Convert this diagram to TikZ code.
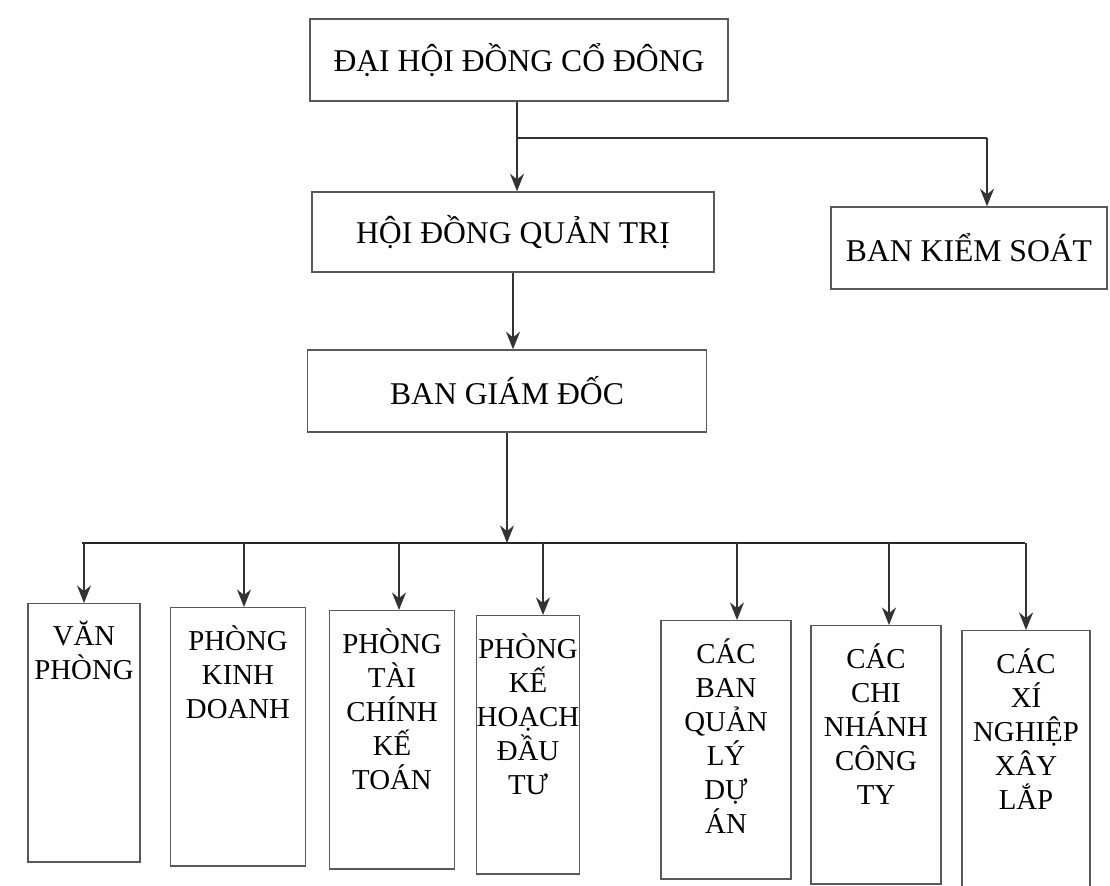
\documentclass[tikz,border=0pt]{standalone}
\usepackage{fontspec}
\setmainfont{Liberation Serif}
\usetikzlibrary{arrows.meta,calc}

\tikzset{
  box/.style={draw=black!65, thin, minimum width=#1, minimum height=0.82cm,
    inner sep=0pt, font=\fontsize{9}{10}\selectfont},
  unit/.style={draw=black!65, thin, minimum width=#1, minimum height=2.58cm,
    inner sep=0pt, anchor=north},
  unittext/.style={anchor=north, yshift=-0.06cm, align=center,
    font=\fontsize{8.2}{9.7}\selectfont},
  link/.style={draw=black!80, thin, -{Stealth[length=5pt,width=4pt]}},
  bus/.style={draw=black!85, line width=0.8pt}
}

\begin{document}
\begin{tikzpicture}[x=0.01cm,y=-0.01cm]
\useasboundingbox (0,0) rectangle (1110,885);

%top levels
\node[box=4.18cm] (dhcd) at (519,60) {ĐẠI HỘI ĐỒNG CỔ ĐÔNG};
\node[box=4.02cm, minimum height=0.8cm] (hdqt) at (513,232) {HỘI ĐỒNG QUẢN TRỊ};
\node[box=2.76cm] (bks) at (969,248) {BAN KIỂM SOÁT};
\node[box=3.99cm] (bgd) at (507,391) {BAN GIÁM ĐỐC};

\coordinate (split) at (517,138);
\coordinate (busl) at (82,543);
\coordinate (busr) at (1025,543);

\draw[link] (dhcd.south -| split) -- (hdqt.north -| split);
\draw[draw=black!80, thin] (split) -- (split -| 987,0);
\draw[link] (split -| 987,0) -- ($(bks.north)+(18,0)$);
\draw[link] (hdqt.south) -- (hdqt.south |- bgd.north);
\draw[link] (bgd.south) -- (bgd.south |- busl);
\draw[bus] (busl) -- (busr);

%departments
\node[unit=1.12cm, label={[unittext]north:VĂN\\PHÒNG}] (vp) at (84,603) {};
\node[unit=1.35cm, label={[unittext]north:PHÒNG\\KINH\\DOANH}] (pkd) at (238,607) {};
\node[unit=1.25cm, label={[unittext]north:PHÒNG\\TÀI\\CHÍNH\\KẾ\\TOÁN}] (ptc) at (392,610) {};
\node[unit=1.03cm, label={[unittext]north:PHÒNG\\KẾ\\HOẠCH\\ĐẦU\\TƯ}] (pkh) at (528,615) {};
\node[unit=1.30cm, label={[unittext]north:CÁC\\BAN\\QUẢN\\LÝ\\DỰ\\ÁN}] (qlda) at (726,620) {};
\node[unit=1.30cm, label={[unittext]north:CÁC\\CHI\\NHÁNH\\CÔNG\\TY}] (cn) at (876,625) {};
\node[unit=1.28cm, label={[unittext]north:CÁC\\XÍ\\NGHIỆP\\XÂY\\LẮP}] (xn) at (1026,630) {};

\draw[link] (vp.north |- busl) -- (vp.north);
\draw[link] ($(pkd.north |- busl)+(6,0)$) -- ($(pkd.north)+(6,0)$);
\draw[link] ($(ptc.north |- busl)+(7,0)$) -- ($(ptc.north)+(7,0)$);
\draw[link] ($(pkh.north |- busl)+(15,0)$) -- ($(pkh.north)+(15,0)$);
\draw[link] ($(qlda.north |- busl)+(11,0)$) -- ($(qlda.north)+(11,0)$);
\draw[link] ($(cn.north |- busl)+(13,0)$) -- ($(cn.north)+(13,0)$);
\draw[link] (xn.north |- busl) -- (xn.north);
\end{tikzpicture}
\end{document}
